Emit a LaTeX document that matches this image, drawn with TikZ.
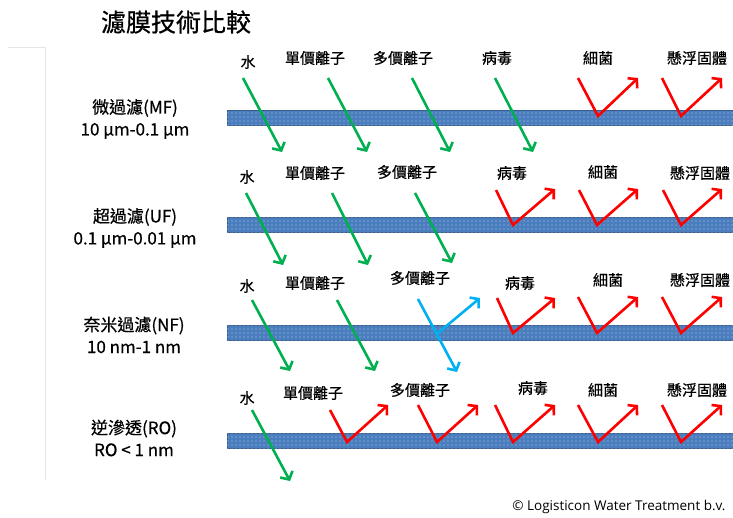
\documentclass[tikz,border=0pt]{standalone}
\usepackage{fontspec}
\setmainfont{Noto Sans CJK TC}[FakeBold=0.6]
\newfontfamily\creditfont{Open Sans}
\usepackage{xcolor}
\usepackage{tikz}
\usetikzlibrary{arrows.meta, patterns}

\definecolor{barblue}{HTML}{4A7EBF}
\definecolor{passgreen}{HTML}{00B050}
\definecolor{rejectred}{HTML}{FF0000}
\definecolor{partblue}{HTML}{00B0F0}

\pgfdeclarepatternformonly{memdots}{\pgfqpoint{-1pt}{-1pt}}{\pgfqpoint{1pt}{1pt}}{\pgfqpoint{4pt}{4pt}}{%
  \pgfpathcircle{\pgfqpoint{0pt}{0pt}}{0.6pt}\pgfusepath{fill}}

\tikzset{
  membrane/.style={draw=barblue!75!black, line width=1pt, fill=barblue,
    postaction={pattern=memdots, pattern color=barblue!40!white}},
  pass/.style={draw=passgreen, line width=2.6pt, -{Straight Barb[length=6pt, width=14pt]}},
  reject/.style={draw=rejectred, line width=2.6pt, line join=miter, -{Straight Barb[length=6pt, width=14pt]}},
  partial/.style={draw=partblue, line width=2.6pt, -{Straight Barb[length=6pt, width=14pt]}},
  lbl/.style={font=\fontsize{15}{18}\selectfont, inner sep=0pt},
  side/.style={font=\fontsize{17}{22}\selectfont, align=center, inner sep=0pt},
}

\begin{document}
\begin{tikzpicture}[x=1pt, y=-1pt]
\useasboundingbox (0,0) rectangle (733,517);

% slide edge
\draw[black!10] (8,47) -- (45,47) -- (45,480);
\node[font=\fontsize{25}{28}\selectfont] (title) at (176,22) {濾膜技術比較};

% membranes
\foreach \c in {118,225,333,441}
  \draw[membrane] (227,\c-7.5) rectangle (735,\c+7.5);

% MF
\node[side] (mf) at (135,119) {微過濾(MF)\\10 μm-0.1 μm};
\node[lbl] (mf-w) at (248,62) {水};
\node[lbl] (mf-mono) at (315,58) {單價離子};
\node[lbl] (mf-multi) at (403,58) {多價離子};
\node[lbl] (mf-virus) at (497,58) {病毒};
\node[lbl] (mf-bact) at (598,58) {細菌};
\node[lbl] (mf-ss) at (697,58) {懸浮固體};
\draw[pass] (243,78) -- (282,152);
\draw[pass] (328,78) -- (367,152);
\draw[pass] (412,78) -- (450,152);
\draw[pass] (495,78) -- (533,152);
\draw[reject] (578,78) -- (598,116) -- (638,78);
\draw[reject] (662,78) -- (681,116) -- (722,78);

% UF
\node[side] (uf) at (135,228) {超過濾(UF)\\0.1 μm-0.01 μm};
\node[lbl] (uf-w) at (247,177) {水};
\node[lbl] (uf-mono) at (315,173) {單價離子};
\node[lbl] (uf-multi) at (407,172) {多價離子};
\node[lbl] (uf-virus) at (512,173) {病毒};
\node[lbl] (uf-bact) at (603,172) {細菌};
\node[lbl] (uf-ss) at (700,173) {懸浮固體};
\draw[pass] (246,193) -- (283,265);
\draw[pass] (332,193) -- (368,265);
\draw[pass] (415,193) -- (452,263);
\draw[reject] (496,190) -- (513,225) -- (555,189);
\draw[reject] (579,190) -- (597,225) -- (638,189);
\draw[reject] (663,190) -- (681,225) -- (722,189);

% NF
\node[side] (nf) at (134,335) {奈米過濾(NF)\\10 nm-1 nm};
\node[lbl] (nf-w) at (247,286) {水};
\node[lbl] (nf-mono) at (315,283) {單價離子};
\node[lbl] (nf-multi) at (420,278) {多價離子};
\node[lbl] (nf-virus) at (520,283) {病毒};
\node[lbl] (nf-bact) at (608,280) {細菌};
\node[lbl] (nf-ss) at (700,280) {懸浮固體};
\draw[pass] (252,300) -- (290,371);
\draw[pass] (337,300) -- (375,371);
\draw[partial] (418,299) -- (457,372);
\draw[partial] (438,333) -- (480,298);
\draw[reject] (497,298) -- (513,333) -- (555,298);
\draw[reject] (578,297) -- (597,333) -- (638,297);
\draw[reject] (662,297) -- (681,333) -- (722,297);

% RO
\node[side] (ro) at (134,438) {逆滲透(RO)\\RO < 1 nm};
\node[lbl] (ro-w) at (247,398) {水};
\node[lbl] (ro-mono) at (313,393) {單價離子};
\node[lbl] (ro-multi) at (420,390) {多價離子};
\node[lbl] (ro-virus) at (533,388) {病毒};
\node[lbl] (ro-bact) at (603,390) {細菌};
\node[lbl] (ro-ss) at (697,390) {懸浮固體};
\draw[pass] (252,410) -- (290,481);
\draw[reject] (330,410) -- (347,442) -- (388,405);
\draw[reject] (418,405) -- (437,442) -- (478,405);
\draw[reject] (495,405) -- (513,442) -- (555,405);
\draw[reject] (578,405) -- (598,442) -- (638,405);
\draw[reject] (662,405) -- (681,442) -- (722,405);

\node[font=\creditfont\fontsize{13.5}{15}\selectfont, anchor=east] (credit) at (729,507) {© Logisticon Water Treatment b.v.};
\end{tikzpicture}
\end{document}
